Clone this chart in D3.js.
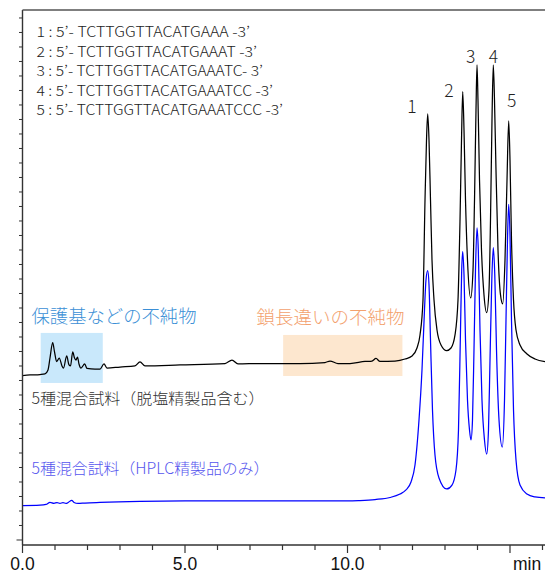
<!DOCTYPE html>
<html><head><meta charset="utf-8">
<script src="https://cdn.jsdelivr.net/npm/d3@7"></script>
<style>body{margin:0;background:#fff}</style>
</head><body><svg id="c" width="545" height="573"></svg>
<script>
// ---------------- data ----------------
const blackTime = [0,0.231,0.538,0.692,0.785,0.846,0.929,0.985,1.052,1.132,1.215,1.262,1.360,1.431,1.477,1.545,1.600,1.646,1.692,1.738,1.800,1.914,1.985,2.231,2.385,2.508,2.600,3.000,3.462,3.615,3.769,4.846,6.231,6.446,6.631,7.308,8.538,9.308,9.462,9.708,10.077,10.538,10.754,10.877,11.000,11.462,11.769,11.985,
12.138,12.231,12.323,12.385,12.431,12.468,12.508,12.554,12.600,12.662,12.754,12.877,13.052,13.185,13.308,13.400,13.462,13.508,13.545,13.585,13.631,13.692,13.791,13.862,13.908,13.954,13.985,14.015,14.062,14.123,14.200,14.283,14.354,14.400,14.446,14.486,14.523,14.569,14.631,14.708,14.775,14.846,14.908,14.960,15.000,15.046,15.108,15.185,15.308,15.523,15.769,16.077];
const blackSignal = [113.4,113.8,114.1,114.5,117.2,125.5,136.1,129.7,123.0,125.5,120.0,118.6,126.9,120.7,120.0,129.7,125.5,124.1,126.2,121.4,118.6,121.4,118.3,117.9,117.9,121.4,118.6,119.3,120.0,122.8,120.0,120.7,121.7,124.1,121.4,121.7,121.7,122.4,123.4,121.7,121.7,123.1,123.4,125.2,123.1,123.4,124.8,126.9,
132.4,141.4,165.5,234.5,275.9,293.8,275.9,234.5,193.1,165.5,144.8,134.5,130.6,132.4,141.4,165.5,220.7,275.9,309.2,282.8,234.5,193.1,166.9,186.2,234.5,296.6,327.6,303.4,248.3,200.0,169.0,156.8,172.4,220.7,289.7,327.6,303.4,255.2,200.0,169.0,162.8,193.1,248.3,289.0,262.1,206.9,165.5,144.8,134.5,128.3,124.8,123.0];

const blueTime = [0,0.538,0.723,0.846,0.969,1.062,1.154,1.246,1.338,1.415,1.514,1.585,1.708,1.923,2.385,3.615,5.000,7.308,10.015,10.385,10.846,11.308,11.615,11.800,11.954,12.077,12.200,12.292,12.369,12.415,12.468,12.508,12.554,12.615,12.692,12.815,13.052,13.215,13.338,13.415,13.477,13.514,13.545,13.585,13.631,13.692,13.754,13.800,13.846,13.892,13.938,13.985,14.025,14.077,14.138,14.215,14.283,14.338,14.385,14.440,14.486,14.532,14.585,14.662,14.763,14.831,14.877,14.923,14.960,15.000,15.046,15.108,15.185,15.308,15.523,15.769,16.077];
const blueSignal = [23.7,24.0,24.5,26.0,25.3,25.8,25.2,25.8,25.2,26.0,27.4,25.9,25.2,25.5,25.9,26.6,26.9,27.0,26.9,27.2,27.9,29.3,31.7,34.5,40.0,51.7,82.8,117.2,158.6,179.3,185.7,175.9,137.9,89.7,58.6,42.8,35.2,37.9,48.3,75.9,144.8,186.2,198.8,182.8,137.9,96.6,75.9,69.0,82.8,131.0,186.2,215.2,200.0,144.8,96.6,69.0,59.3,75.9,124.1,179.3,201.6,182.8,131.0,82.8,64.1,96.6,151.7,206.9,231.5,210.3,151.7,89.7,55.2,37.9,31.7,29.7,29.0];

const xTickValues = [0,5,10];
const xTickLabels = ["0.0","5.0","10.0"];
const xUnitLabel = "min";
const sequences = [
  "1 : 5\u2019- TCTTGGTTACATGAAA -3\u2019",
  "2 : 5\u2019- TCTTGGTTACATGAAAT -3\u2019",
  "3 : 5\u2019- TCTTGGTTACATGAAATC- 3\u2019",
  "4 : 5\u2019- TCTTGGTTACATGAAATCC -3\u2019",
  "5 : 5\u2019- TCTTGGTTACATGAAATCCC -3\u2019"
];
const peakLabels = ["1","2","3","4","5"];
const regionNames = ["保護基などの不純物","鎖長違いの不純物"];
const regionStart = [0.56, 8.02];
const regionEnd = [2.47, 11.69];
const seriesNames = ["5種混合試料（脱塩精製品含む）","5種混合試料（HPLC精製品のみ）"];

// ---------------- layout ----------------
const W = 545, H = 573;
const L = 22.5, R = 545, T = 10, B = 545;
const svg = d3.select("#c");
const x = d3.scaleLinear().domain([0, 16.077]).range([L, R]);
const y = d3.scaleLinear().domain([-3.45, 365.5]).range([B, T]);

svg.append("defs").append("clipPath").attr("id","clip")
  .append("rect").attr("x",L).attr("y",T).attr("width",R-L).attr("height",B-T);

// region boxes
const boxCol = ["#c9e8fb","#fde7cf"];
const boxTop = [142.8,141.4], boxBot = [108.3,113.1];
regionStart.forEach((s,i)=>{
  svg.append("rect").attr("x",x(s)).attr("width",x(regionEnd[i])-x(s))
    .attr("y",y(boxTop[i])).attr("height",y(boxBot[i])-y(boxTop[i]))
    .attr("fill",boxCol[i]);
});

// traces
const line = d3.line().x(d=>x(d[0])).y(d=>y(d[1])).curve(d3.curveMonotoneX);
const g = svg.append("g").attr("clip-path","url(#clip)");
g.append("path").datum(blueTime.map((t,i)=>[t,blueSignal[i]]))
  .attr("d",line).attr("fill","none").attr("stroke","#0000ff").attr("stroke-width",1.25);
g.append("path").datum(blackTime.map((t,i)=>[t,blackSignal[i]]))
  .attr("d",line).attr("fill","none").attr("stroke","#000").attr("stroke-width",1.25);

// axes
const axCol = "#333";
svg.append("line").attr("x1",L).attr("x2",R).attr("y1",B).attr("y2",B).attr("stroke",axCol).attr("stroke-width",1.4);
svg.append("line").attr("x1",L).attr("x2",L).attr("y1",T).attr("y2",B).attr("stroke",axCol).attr("stroke-width",1.4);
svg.append("line").attr("x1",L).attr("x2",R).attr("y1",T).attr("y2",T).attr("stroke","#555").attr("stroke-width",1.4);

d3.range(0,17,1).forEach(v=>{
  const major = v%5===0;
  svg.append("line").attr("x1",x(v)).attr("x2",x(v)).attr("y1",B).attr("y2",B+(major?8:5))
    .attr("stroke",axCol).attr("stroke-width",1.2);
});
d3.range(0,366,10).forEach(v=>{
  svg.append("line").attr("x1",L).attr("x2",L-(v===0?6:3.5)).attr("y1",y(v)).attr("y2",y(v))
    .attr("stroke",axCol).attr("stroke-width",1);
});
xTickValues.forEach((v,i)=>{
  svg.append("text").attr("x",x(v)).attr("y",569.5).attr("text-anchor","middle")
    .attr("font-family","Liberation Sans, Arial, sans-serif").attr("font-size",17.5).attr("fill","#111")
    .text(xTickLabels[i]);
});
svg.append("text").attr("x",513).attr("y",569.5).attr("font-family","Liberation Sans, Arial, sans-serif")
  .attr("font-size",17.5).attr("fill","#111").text(xUnitLabel);

// texts
const jp = "Noto Sans CJK JP, sans-serif";
const seqLen = [213.5,220.5,226.5,236.5,246.5];
sequences.forEach((s,i)=>{
  svg.append("text").attr("x",36.5).attr("y",37+i*19.6).attr("font-family",jp)
    .attr("font-size",14).attr("font-weight",300).attr("fill","#222")
    .attr("textLength",seqLen[i]).attr("lengthAdjust","spacingAndGlyphs").text(s);
});
const pkX=[11.98,13.12,13.79,14.49,15.05], pkY=[294.3,305.3,328.8,328.8,298.4];
peakLabels.forEach((p,i)=>{
  svg.append("text").attr("x",x(pkX[i])).attr("y",y(pkY[i])).attr("text-anchor","middle")
    .attr("font-family",jp).attr("font-size",17.5).attr("font-weight",300).attr("fill","#222").text(p);
});
const regTextX=[31.5,256.5], regTextY=[323,324], regCol=["#3b8fd6","#f3a16d"], regLen=[165,148];
regionNames.forEach((r,i)=>{
  svg.append("text").attr("x",regTextX[i]).attr("y",regTextY[i]).attr("font-family",jp)
    .attr("font-size",18.3).attr("font-weight",300).attr("fill",regCol[i])
    .attr("textLength",regLen[i]).attr("lengthAdjust","spacingAndGlyphs").text(r);
});
const serY=[404,474], serCol=["#333","#5656ee"], serLen=[233,238];
seriesNames.forEach((s,i)=>{
  svg.append("text").attr("x",31.5).attr("y",serY[i]).attr("font-family",jp)
    .attr("font-size",15.3).attr("font-weight",300).attr("fill",serCol[i])
    .attr("textLength",serLen[i]).attr("lengthAdjust","spacingAndGlyphs").text(s);
});
</script></body></html>
